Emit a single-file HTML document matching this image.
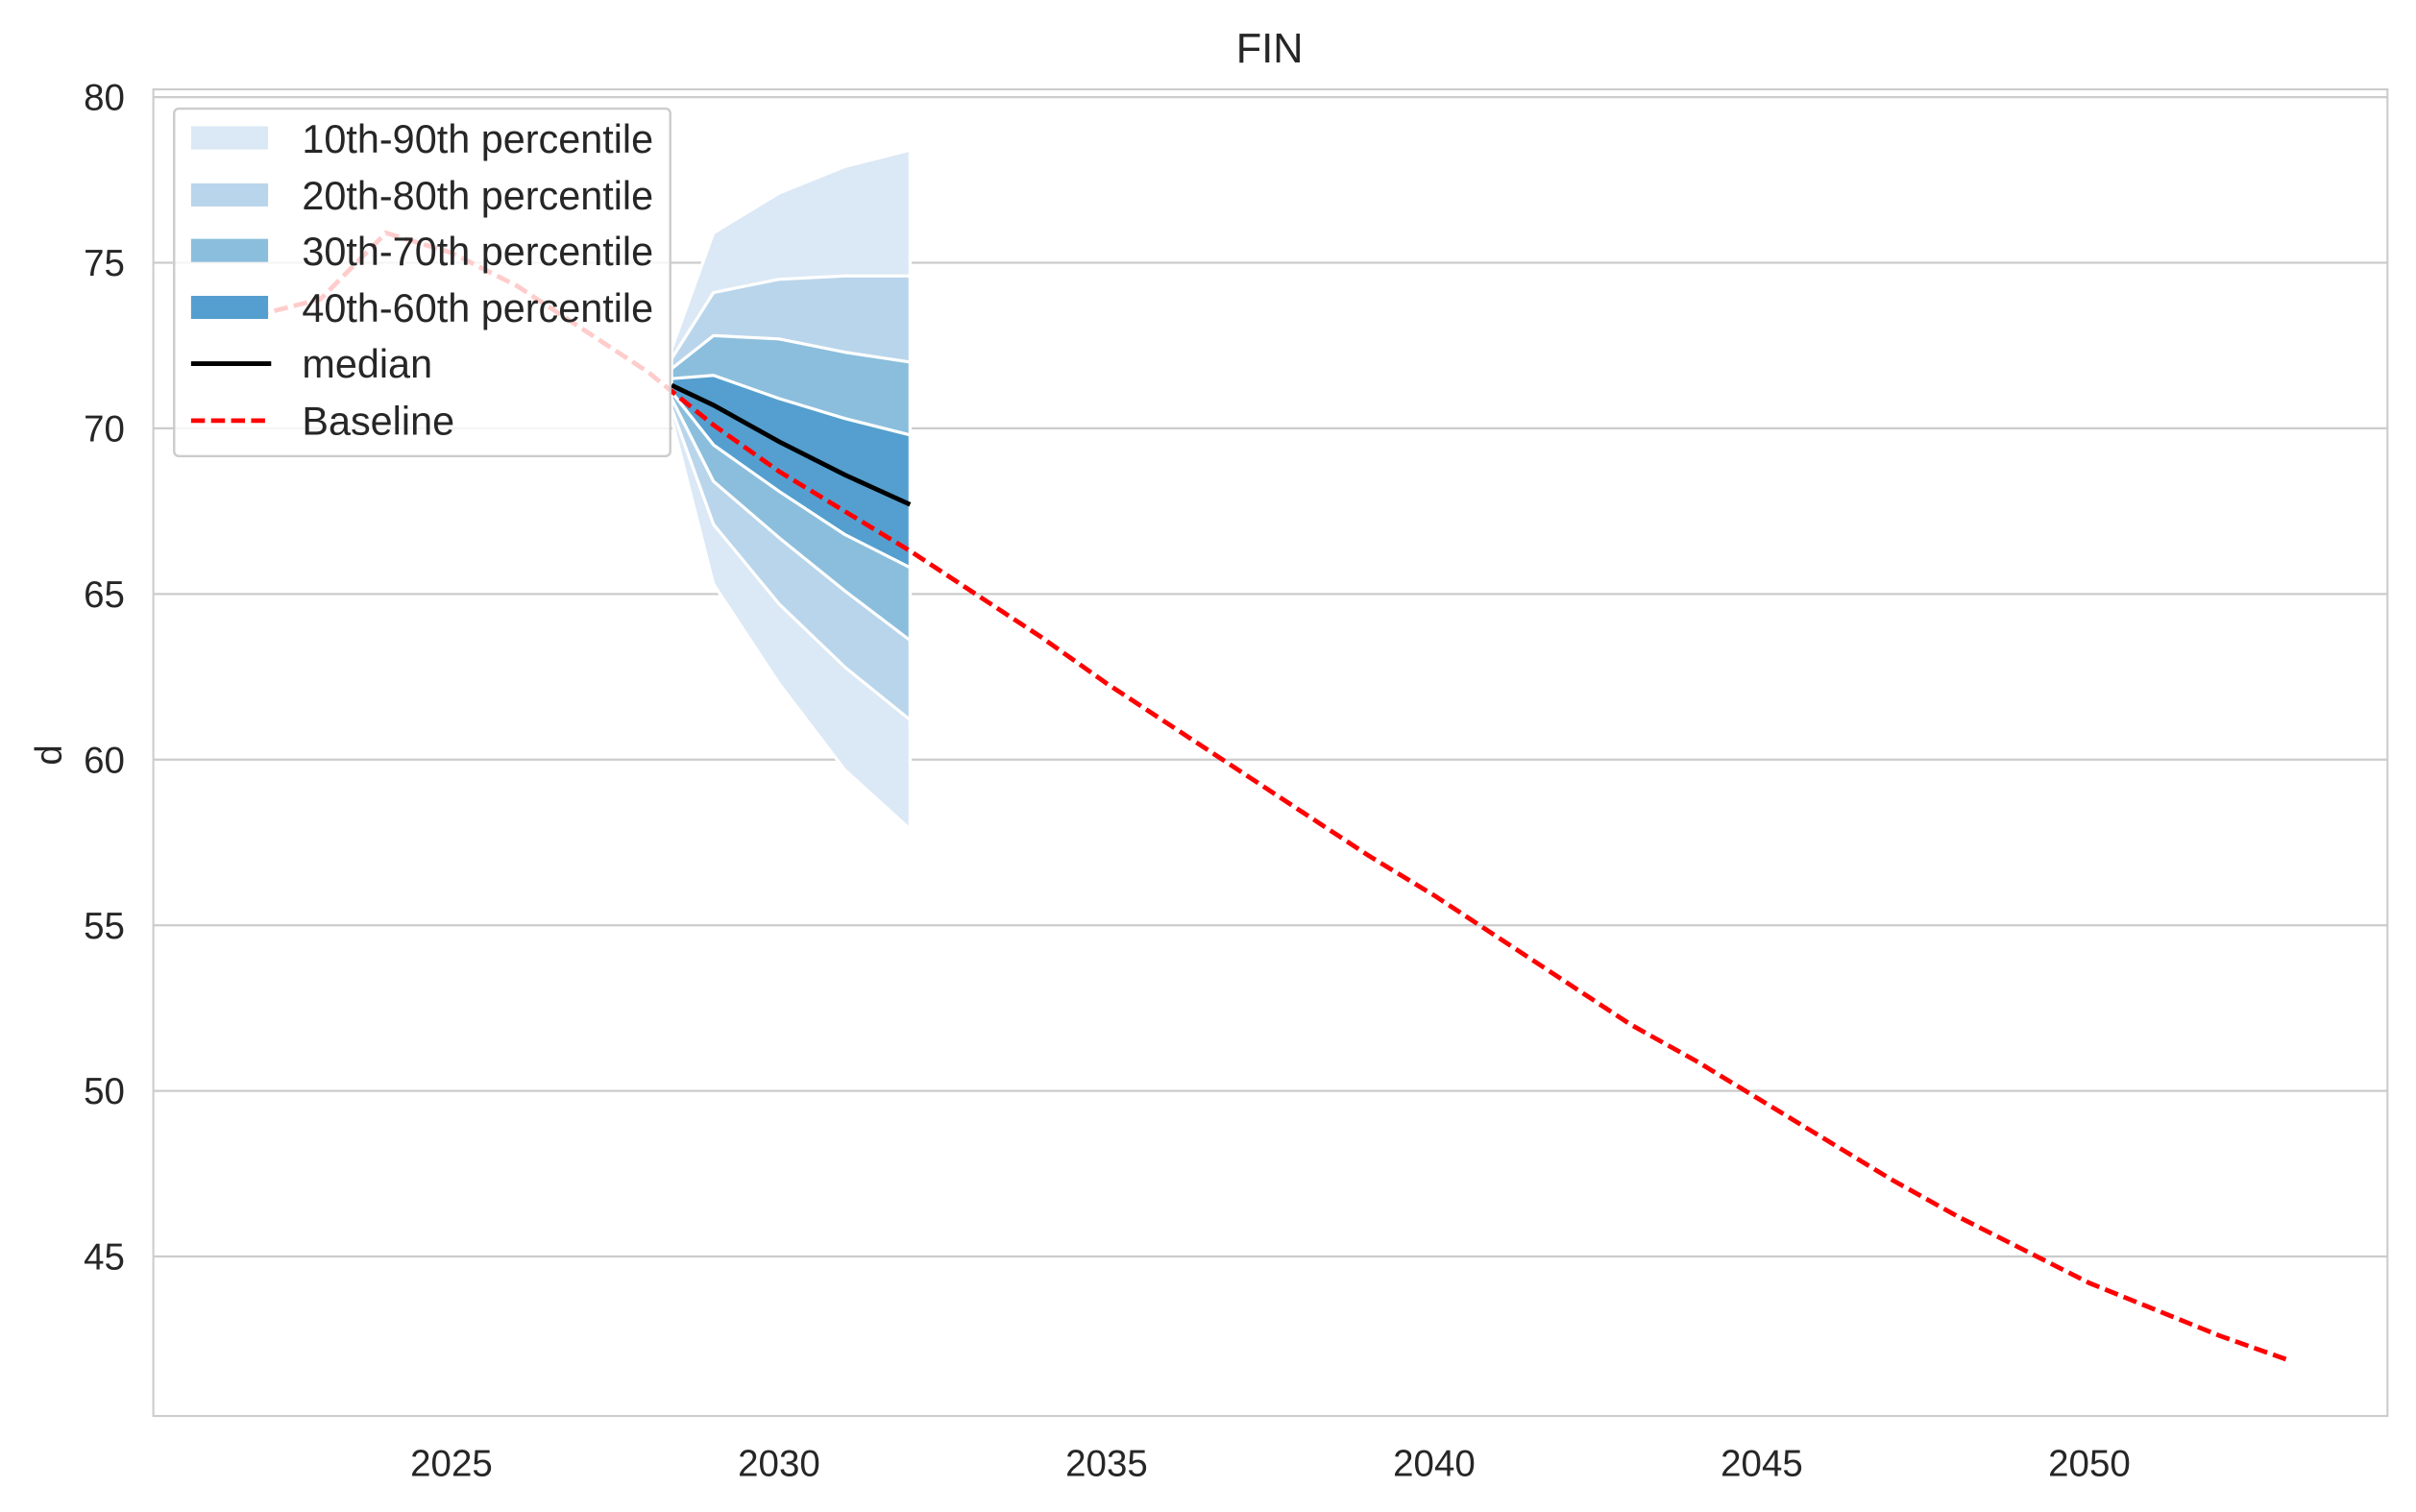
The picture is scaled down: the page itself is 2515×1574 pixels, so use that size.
<!DOCTYPE html>
<html><head><meta charset="utf-8"><style>
html,body{margin:0;padding:0;background:#fff;}
svg{display:block;font-family:"Liberation Sans",Arial,sans-serif;}
</style></head><body>
<svg id="chart" width="2515" height="1574" viewBox="0 0 1568 981.3" xmlns="http://www.w3.org/2000/svg">
<rect width="1568" height="981.3" fill="#fff"/>
<g id="grid"></g>
<g id="fan"></g>
<g id="lines"></g>
<rect x="99.5" y="58" width="1450" height="861" fill="none" stroke="#cccccc" stroke-width="1.3"/>
<g id="ticks" font-size="24" fill="#262626"></g>
<text x="824" y="40.5" font-size="27" text-anchor="middle" fill="#262626">FIN</text>
<text x="40" y="490" font-size="24" text-anchor="middle" fill="#262626" transform="rotate(-90 40 490)">d</text>
<g>
<rect x="113" y="70.5" width="322" height="225.5" rx="3" fill="#fff" fill-opacity="0.8" stroke="#cccccc" stroke-width="1.5"/>
<rect x="124" y="82" width="50" height="15" fill="#dbe8f5"/>
<rect x="124" y="119" width="50" height="15" fill="#b9d5eb"/>
<rect x="124" y="155" width="50" height="15" fill="#8bbedc"/>
<rect x="124" y="192" width="50" height="15" fill="#549fcf"/>
<line x1="124" y1="236" x2="176" y2="236" stroke="#000" stroke-width="3"/>
<line x1="124" y1="273" x2="176" y2="273" stroke="#ff0000" stroke-width="3" stroke-dasharray="9,4"/>
<g font-size="25.8" fill="#262626">
<text x="196" y="99">10th-90th percentile</text>
<text x="196" y="136">20th-80th percentile</text>
<text x="196" y="172">30th-70th percentile</text>
<text x="196" y="209">40th-60th percentile</text>
<text x="196" y="245">median</text>
<text x="196" y="282">Baseline</text>
</g>
</g>
</svg>
<script>
const fanYears = [2028.36, 2029, 2030, 2031, 2032];
const p10 = [70.3, 65.3, 62.3, 59.7, 57.9];
const p20 = [70.6, 67.1, 64.7, 62.8, 61.2];
const p30 = [70.9, 68.4, 66.7, 65.1, 63.6];
const p40 = [71.1, 69.5, 68.1, 66.8, 65.8];
const median = [71.3, 70.7, 69.6, 68.6, 67.7];
const p60 = [71.5, 71.6, 70.9, 70.3, 69.8];
const p70 = [71.8, 72.8, 72.7, 72.3, 72.0];
const p80 = [72.1, 74.1, 74.5, 74.6, 74.6];
const p90 = [72.4, 75.9, 77.1, 77.9, 78.4];
const baseYears = [2022,2023,2024,2025,2026,2027,2028,2029,2030,2031,2032,2033,2034,2035,2036,2037,2038,2039,2040,2041,2042,2043,2044,2045,2046,2047,2048,2049,2050,2051,2052,2053];
const baseline = [73.4,73.9,75.9,75.3,74.3,73.0,71.7,70.1,68.7,67.5,66.3,65.0,63.7,62.3,61.0,59.7,58.4,57.1,55.9,54.6,53.3,52.0,50.9,49.7,48.5,47.3,46.2,45.2,44.2,43.4,42.6,41.9];
const yTicks = [45,50,55,60,65,70,75,80];
const xTicks = [2025,2030,2035,2040,2045,2050];

const NS = "http://www.w3.org/2000/svg";
const X = yr => 293 + (yr - 2025) * 42.52;
const Y = v => 278 - (v - 70) * 21.5;
function mk(tag, parent, attrs){const e=document.createElementNS(NS,tag);for(const k in attrs)e.setAttribute(k,attrs[k]);parent.appendChild(e);return e;}

const grid=document.getElementById('grid'), ticks=document.getElementById('ticks');
yTicks.forEach(v=>{
  const l=mk('line',grid,{x1:99.5,x2:1549.5,y1:Y(v),y2:Y(v),stroke:'#cccccc','stroke-width':1.4});
  
  
  const t=mk('text',ticks,{x:81,y:Y(v)+8.5,'text-anchor':'end'});t.textContent=v;
  
  
});
xTicks.forEach(yr=>{
  const t=mk('text',ticks,{x:X(yr),y:958,'text-anchor':'middle'});t.textContent=yr;
  
  
});

const fan=document.getElementById('fan');
const bands=[[p10,p90,'#dbe8f5','band-10-90'],[p20,p80,'#b9d5eb','band-20-80'],[p30,p70,'#8bbedc','band-30-70'],[p40,p60,'#549fcf','band-40-60']];
bands.forEach(b=>{
  let pts=fanYears.map((yr,i)=>X(yr)+','+Y(b[1][i]));
  pts=pts.concat(fanYears.map((yr,i)=>X(yr)+','+Y(b[0][i])).reverse());
  const p=mk('polygon',fan,{points:pts.join(' '),fill:b[2],stroke:'#ffffff','stroke-width':2,'stroke-linejoin':'round'});
  
  
});

const lines=document.getElementById('lines');
const bl=mk('polyline',lines,{points:baseYears.map((yr,i)=>X(yr)+','+Y(baseline[i])).join(' '),fill:'none',stroke:'#ff0000','stroke-width':3,'stroke-dasharray':'9,4'});


const ml=mk('polyline',lines,{points:fanYears.map((yr,i)=>X(yr)+','+Y(median[i])).join(' '),fill:'none',stroke:'#000000','stroke-width':3});


</script>
</body></html>
